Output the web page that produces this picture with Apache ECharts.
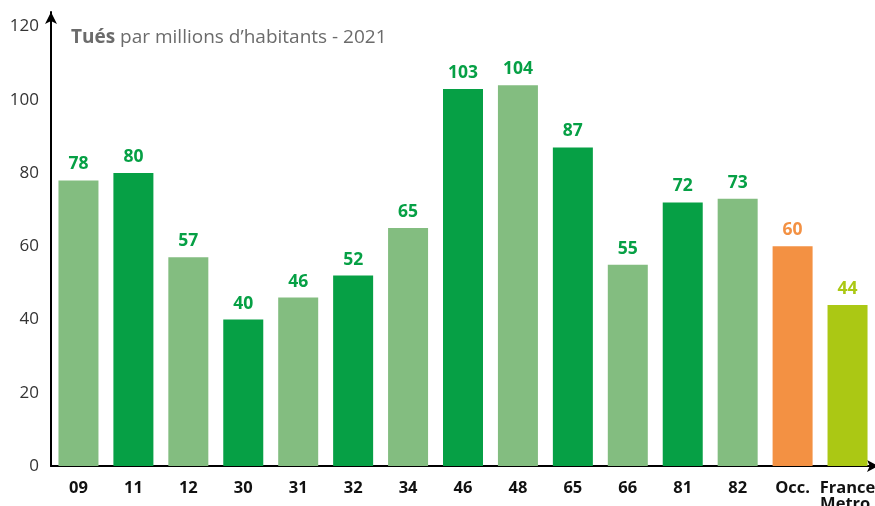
<!DOCTYPE html>
<html><head><meta charset="utf-8">
<script src="https://cdn.jsdelivr.net/npm/echarts@6/dist/echarts.min.js"></script>
<style>html,body{margin:0;padding:0;background:#fff}#c{width:875px;height:506px}</style>
</head><body><div id="c"></div>
<script>
const categories = ['09','11','12','30','31','32','34','46','48','65','66','81','82','Occ.','France\nMetro.'];
const values = [78,80,57,40,46,52,65,103,104,87,55,72,73,60,44];
const colorKeys = ['l','d','l','d','l','d','l','d','l','d','l','d','l','o','y'];
const yTicks = [0,20,40,60,80,100,120];
const palette = {l:'#83bd80', d:'#06a045', o:'#f39143', y:'#abc814'};
const labelPalette = {l:'#06a045', d:'#06a045', o:'#f39143', y:'#abc814'};
const FONT = 'Open Sans';
const chart = echarts.init(document.getElementById('c'));
chart.setOption({
  animation:false,
  title:{
    text:'{b|Tués} par millions d’habitants - 2021',
    left:66, top:23,
    textStyle:{fontFamily:FONT, fontSize:19, fontWeight:'normal', color:'#6b6b6b',
      rich:{b:{fontFamily:FONT, fontSize:19, fontWeight:'bold', color:'#6b6b6b'}}}
  },
  grid:{left:51, right:0, top:12, bottom:40, containLabel:false, outerBoundsMode:'none'},
  xAxis:{
    type:'category', data:categories,
    axisLine:{lineStyle:{color:'#000', width:2}, symbol:['none','arrow'], symbolSize:[9,11], symbolOffset:[0,3]},
    axisTick:{show:false},
    axisLabel:{fontFamily:FONT, fontSize:16.5, fontWeight:'bold', color:'#111', margin:14, lineHeight:16, interval:0}
  },
  yAxis:{
    type:'value', min:0, max:124,
    splitLine:{show:false},
    axisLine:{show:true, lineStyle:{color:'#000', width:2}, symbol:['none','arrow'], symbolSize:[9,12]},
    axisTick:{show:false},
    axisLabel:{fontFamily:FONT, fontSize:17, color:'#333', margin:12, customValues:yTicks}
  },
  series:[{
    type:'bar', barWidth:40,
    data: values.map((v,i)=>({value:v, itemStyle:{color:palette[colorKeys[i]]},
      label:{color:labelPalette[colorKeys[i]]}})),
    label:{show:true, position:'top', distance:7, fontFamily:FONT, fontSize:17.5, fontWeight:'bold'}
  }]
});
</script></body></html>
